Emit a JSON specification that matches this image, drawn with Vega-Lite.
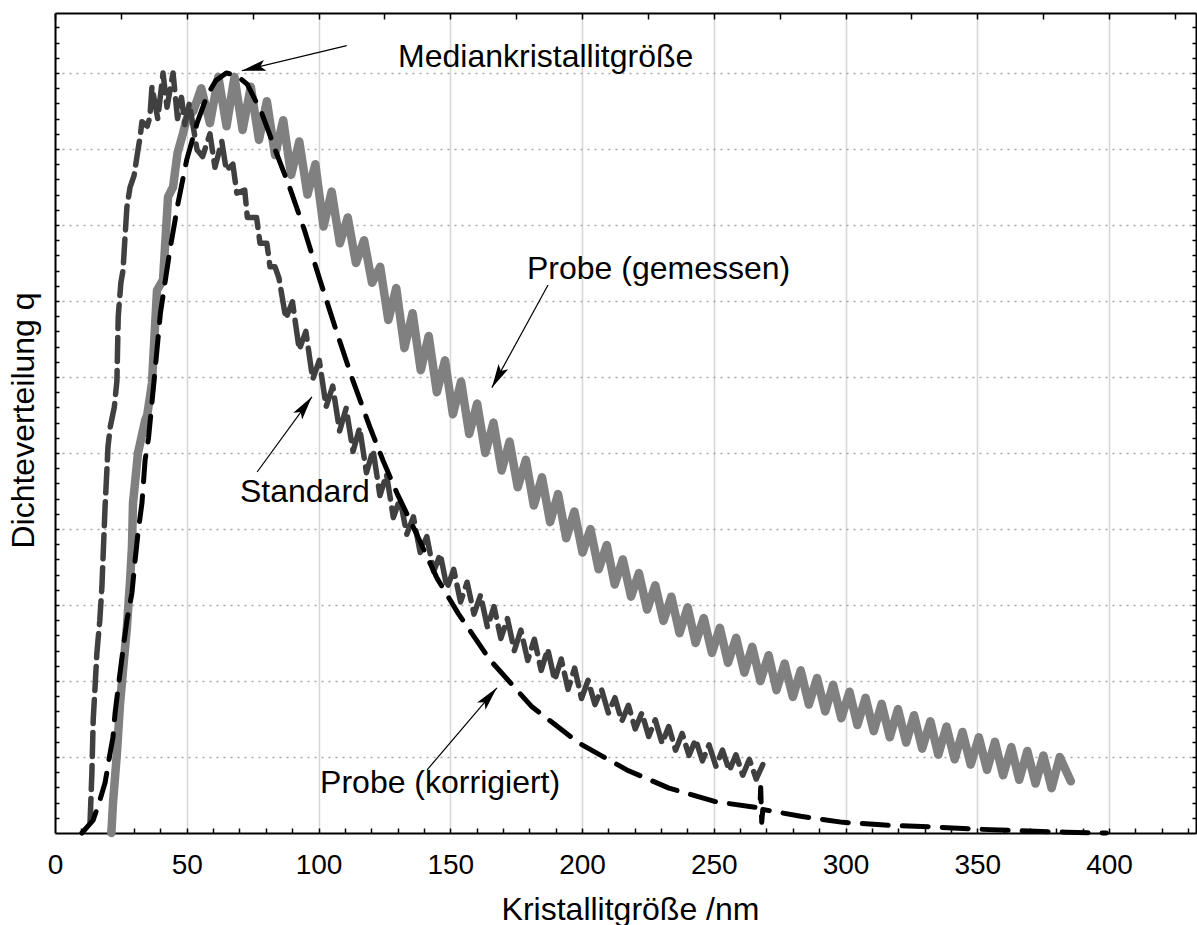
{
"$schema":"https://vega.github.io/schema/vega-lite/v6.json",
"width":1141,"height":820,
"autosize":{"type":"none"},
"padding":{"left":55,"top":13,"right":1,"bottom":92},
"background":"white",
"config":{"view":{"stroke":null},"font":"Liberation Sans"},
"datasets":{
"gemessen":[{"x":21.4,"y":0},{"x":22,"y":0.39},{"x":23.5,"y":1.05},{"x":24.7,"y":1.71},{"x":25.8,"y":2.14},{"x":27.3,"y":2.71},{"x":28.5,"y":3.33},{"x":29.2,"y":3.76},{"x":29.6,"y":4.34},{"x":31.5,"y":5.0},{"x":34.2,"y":5.43},{"x":35,"y":5.5},{"x":36.8,"y":5.92},{"x":38.7,"y":7.14},{"x":41,"y":7.28},{"x":42.9,"y":8.37},{"x":44.8,"y":8.5},{"x":46.5,"y":8.95},{"x":48.6,"y":9.21},{"x":50,"y":9.4},{"x":52.5,"y":9.5},{"x":55.5,"y":9.8},{"x":58.8,"y":9.34},
{"x":62.0,"y":9.95},{"x":65.1,"y":9.3},{"x":68.1,"y":9.95},{"x":71.2,"y":9.25},{"x":74.3,"y":9.82},{"x":77.4,"y":9.12},{"x":80.4,"y":9.63},{"x":83.5,"y":8.92},{"x":86.6,"y":9.38},{"x":89.6,"y":8.66},{"x":92.7,"y":9.1},{"x":95.8,"y":8.4},{"x":98.8,"y":8.8},{"x":101.9,"y":7.98},{"x":105.0,"y":8.44},{"x":108.1,"y":7.76},{"x":111.1,"y":8.1},{"x":114.2,"y":7.5},{"x":117.3,"y":7.8},{"x":120.3,"y":7.24},{"x":123.4,"y":7.45},{"x":126.5,"y":6.75},{"x":129.5,"y":7.17},{"x":132.6,"y":6.38},{"x":135.7,"y":6.84},{"x":138.8,"y":6.09},{"x":141.8,"y":6.54},{"x":144.9,"y":5.8},{"x":148.0,"y":6.22},{"x":151.0,"y":5.51},{"x":154.1,"y":5.94},{"x":157.2,"y":5.25},{"x":160.2,"y":5.65},{"x":163.3,"y":5.0},{"x":166.4,"y":5.4},{"x":169.5,"y":4.77},{"x":172.5,"y":5.15},{"x":175.6,"y":4.55},{"x":178.7,"y":4.91},{"x":181.7,"y":4.31},{"x":184.8,"y":4.68},{"x":187.9,"y":4.09},{"x":190.9,"y":4.46},{"x":194.0,"y":3.88},{"x":197.1,"y":4.23},{"x":200.2,"y":3.69},{"x":203.2,"y":4.0},{"x":206.3,"y":3.47},{"x":209.4,"y":3.79},{"x":212.4,"y":3.27},{"x":215.5,"y":3.6},{"x":218.6,"y":3.11},{"x":221.6,"y":3.42},{"x":224.7,"y":2.94},{"x":227.8,"y":3.26},{"x":230.9,"y":2.79},{"x":233.9,"y":3.11},{"x":237.0,"y":2.63},{"x":240.1,"y":2.97},{"x":243.1,"y":2.5},{"x":246.2,"y":2.83},{"x":249.3,"y":2.37},{"x":252.3,"y":2.7},{"x":255.4,"y":2.24},{"x":258.5,"y":2.57},{"x":261.6,"y":2.11},{"x":264.6,"y":2.45},{"x":267.7,"y":2.0},{"x":270.8,"y":2.34},{"x":273.8,"y":1.88},{"x":276.9,"y":2.23},{"x":280.0,"y":1.79},{"x":283.0,"y":2.14},{"x":286.1,"y":1.69},{"x":289.2,"y":2.04},{"x":292.3,"y":1.6},{"x":295.3,"y":1.95},{"x":298.4,"y":1.51},{"x":301.5,"y":1.86},{"x":304.5,"y":1.42},{"x":307.6,"y":1.78},{"x":310.7,"y":1.34},{"x":313.7,"y":1.7},{"x":316.8,"y":1.26},{"x":319.9,"y":1.63},{"x":323.0,"y":1.19},{"x":326.0,"y":1.55},{"x":329.1,"y":1.11},{"x":332.2,"y":1.47},{"x":335.2,"y":1.03},{"x":338.3,"y":1.4},{"x":341.4,"y":0.97},{"x":344.4,"y":1.33},{"x":347.5,"y":0.9},{"x":350.6,"y":1.26},{"x":353.7,"y":0.83},{"x":356.7,"y":1.2},{"x":359.8,"y":0.76},{"x":362.9,"y":1.13},{"x":365.9,"y":0.7},{"x":369.0,"y":1.08},{"x":372.1,"y":0.65},{"x":375.1,"y":1.02},{"x":378.2,"y":0.59},{"x":381.3,"y":1.0},{"x":385.5,"y":0.68}],
"standard":[{"x":13.3,"y":0.14},{"x":14,"y":0.79},{"x":14.5,"y":1.49},{"x":15.2,"y":1.92},{"x":15.9,"y":2.37},{"x":17,"y":2.8},{"x":17.8,"y":3.24},{"x":18.3,"y":3.68},{"x":19,"y":4.29},{"x":19.7,"y":4.78},{"x":20.1,"y":5.08},{"x":21,"y":5.35},{"x":22.5,"y":5.6},{"x":23.5,"y":5.95},{"x":24,"y":6.8},{"x":25,"y":7.24},{"x":25.8,"y":7.4},{"x":26.5,"y":7.8},{"x":27.3,"y":8.24},{"x":28.5,"y":8.5},{"x":30,"y":8.65},{"x":31.5,"y":8.99},{"x":32.3,"y":9.16},{"x":33,"y":9.36},{"x":35,"y":9.3},{"x":36,"y":9.42},{"x":36.8,"y":9.82},{"x":39,"y":9.4},{"x":41,"y":10},{"x":42.5,"y":9.55},{"x":44.8,"y":10},{"x":46.5,"y":9.4},{"x":48,"y":9.68},{"x":49.3,"y":9.32},{"x":51,"y":9.6},{"x":53.9,"y":8.99},{"x":56,"y":8.9},{"x":58.8,"y":9.2},{"x":60.7,"y":8.76},{"x":63.3,"y":9.1},{"x":65,"y":8.72},{"x":67.5,"y":8.8},{"x":69,"y":8.42},{"x":72,"y":8.46},{"x":73,"y":8.1},{"x":76.5,"y":8.1},{"x":77.8,"y":7.76},{"x":80.4,"y":7.76},{"x":81.6,"y":7.45},{"x":83.5,"y":7.45},
{"x":85.0,"y":7.3},{"x":87.6,"y":6.77},{"x":90.1,"y":6.99},{"x":92.7,"y":6.36},{"x":95.2,"y":6.6},{"x":97.8,"y":5.97},{"x":100.3,"y":6.22},{"x":102.9,"y":5.61},{"x":105.4,"y":5.88},{"x":108.0,"y":5.29},{"x":110.5,"y":5.59},{"x":113.1,"y":5.02},{"x":115.6,"y":5.33},{"x":118.2,"y":4.74},{"x":120.7,"y":5.04},{"x":123.3,"y":4.44},{"x":125.8,"y":4.72},{"x":128.4,"y":4.15},{"x":130.9,"y":4.4},{"x":133.5,"y":3.93},{"x":136.0,"y":4.16},{"x":138.6,"y":3.69},{"x":141.1,"y":3.9},{"x":143.7,"y":3.44},{"x":146.2,"y":3.67},{"x":148.8,"y":3.22},{"x":151.3,"y":3.47},{"x":153.9,"y":3.04},{"x":156.4,"y":3.3},{"x":159.0,"y":2.88},{"x":161.5,"y":3.13},{"x":164.1,"y":2.71},{"x":166.6,"y":2.98},{"x":169.2,"y":2.56},{"x":171.7,"y":2.82},{"x":174.3,"y":2.4},{"x":176.8,"y":2.67},{"x":179.4,"y":2.27},{"x":181.9,"y":2.55},{"x":184.5,"y":2.14},{"x":187.0,"y":2.42},{"x":189.6,"y":2.01},{"x":192.1,"y":2.29},{"x":194.7,"y":1.89},{"x":197.2,"y":2.17},{"x":199.8,"y":1.77},{"x":202.3,"y":2.01},{"x":204.9,"y":1.69},{"x":207.4,"y":1.89},{"x":210.0,"y":1.58},{"x":212.5,"y":1.78},{"x":215.1,"y":1.47},{"x":217.6,"y":1.68},{"x":220.2,"y":1.37},{"x":222.7,"y":1.58},{"x":225.3,"y":1.27},{"x":227.8,"y":1.49},{"x":230.4,"y":1.18},{"x":232.9,"y":1.4},{"x":235.5,"y":1.09},{"x":238.0,"y":1.31},{"x":240.6,"y":1.02},{"x":243.1,"y":1.23},{"x":245.7,"y":0.95},{"x":248.2,"y":1.16},{"x":250.8,"y":0.88},{"x":253.3,"y":1.09},{"x":255.9,"y":0.82},{"x":258.4,"y":1.03},{"x":261.0,"y":0.76},{"x":263.5,"y":0.97},{"x":266.1,"y":0.71},{"x":268.6,"y":0.9}],
"korrigiert":[{"x":10.2,"y":0},{"x":14.5,"y":0.17},{"x":17,"y":0.43},{"x":19,"y":0.66},{"x":20.9,"y":1.05},{"x":22,"y":1.26},{"x":22.8,"y":1.58},{"x":24,"y":1.92},{"x":25.8,"y":2.41},{"x":27.3,"y":2.8},{"x":29.2,"y":3.16},{"x":30.4,"y":3.59},{"x":31.5,"y":3.95},{"x":33,"y":4.34},{"x":34.2,"y":4.91},{"x":35.5,"y":5.2},{"x":38,"y":6.1},{"x":40,"y":6.84},{"x":43.6,"y":7.67},{"x":46.7,"y":8.29},{"x":50,"y":8.86},{"x":54,"y":9.35},{"x":57.7,"y":9.7},{"x":61,"y":9.9},{"x":65,"y":10},{"x":69,"y":9.97},{"x":73,"y":9.85},{"x":78.5,"y":9.47},{"x":84,"y":8.95},{"x":89,"y":8.5},{"x":94.5,"y":7.95},{"x":100.6,"y":7.27},{"x":107,"y":6.58},{"x":113,"y":5.96},{"x":119.5,"y":5.34},{"x":124.5,"y":4.9},{"x":129.8,"y":4.47},{"x":137,"y":3.95},{"x":145,"y":3.35},{"x":153,"y":2.89},{"x":165,"y":2.28},{"x":181,"y":1.66},{"x":199,"y":1.18},{"x":217,"y":0.83},{"x":233,"y":0.59},{"x":251,"y":0.41},{"x":267.5,"y":0.33},{"x":267.8,"y":0.6},{"x":268.2,"y":0.14},{"x":268.6,"y":0.31},{"x":283,"y":0.22},{"x":299,"y":0.14},{"x":317,"y":0.1},{"x":333,"y":0.08},{"x":350,"y":0.05},{"x":366,"y":0.03},{"x":384,"y":0.01},{"x":399,"y":0}],
"labels":[{"text":"Mediankristallitgröße","x":130.2,"y":10.08},{"text":"Probe (gemessen)","x":179.1,"y":7.29},{"text":"Standard","x":70.2,"y":4.36},{"text":"Probe (korrigiert)","x":100.6,"y":0.52}],
"arrows":[{"id":1,"x":110.7,"y":10.36,"x2":70.9,"y2":10.03},{"id":2,"x":187.1,"y":7.21,"x2":165.8,"y2":5.86},{"id":3,"x":76.7,"y":4.75,"x2":97.5,"y2":5.74},{"id":4,"x":141.2,"y":0.83,"x2":167.7,"y2":1.91}]
},
"layer":[
{"data":{"name":"gemessen"},
 "mark":{"type":"line","color":"#808080","strokeWidth":8.5,"strokeJoin":"round","strokeCap":"round"},
 "encoding":{
  "x":{"field":"x","type":"quantitative","scale":{"domain":[0,433],"nice":false,"zero":false},
   "axis":{"orient":"bottom","values":[0,50,100,150,200,250,300,350,400],"grid":true,"gridColor":"#d6d6d6","gridWidth":1.5,"ticks":false,"tickSize":0,"domain":true,"domainColor":"#000","domainWidth":2,"labelFontSize":28,"labelColor":"#000","labelFont":"Liberation Sans","labelBaseline":"alphabetic","labelPadding":40,"labelFlush":false,"labelOverlap":false,"title":"Kristallitgröße /nm","titleFont":"Liberation Sans","titleFontSize":32,"titleFontWeight":"normal","titleColor":"#000","titleX":575,"titleY":86,"titleBaseline":"alphabetic","titleAlign":"center","titleAnchor":"start"}},
  "y":{"field":"y","type":"quantitative","scale":{"domain":[0,10.79],"nice":false,"zero":false},
   "axis":{"orient":"left","values":[1,2,3,4,5,6,7,8,9,10],"grid":true,"gridColor":"#a6a6a6","gridDash":[2,5],"gridWidth":1.5,"ticks":false,"labels":false,"domain":true,"domainColor":"#000","domainWidth":2,"title":"Dichteverteilung q","titleFont":"Liberation Sans","titleFontSize":32,"titleFontWeight":"normal","titleColor":"#000","titleAngle":270,"titleX":-22,"titleY":407,"titleBaseline":"alphabetic","titleAlign":"center","titleAnchor":"start"}}
 }},
{"data":{"name":"standard"},
 "mark":{"type":"line","color":"#404040","strokeWidth":5.5,"strokeDash":[24,9],"strokeJoin":"round","strokeCap":"round"},
 "encoding":{
  "x":{"field":"x","type":"quantitative","axis":{"orient":"top","values":[0,25,50,75,100,125,150,175,200,225,250,275,300,325,350,375,400,425],"grid":false,"labels":false,"ticks":true,"tickSize":-6,"tickColor":"#000","tickWidth":1.5,"domain":true,"domainColor":"#000","domainWidth":2,"title":null}},
  "y":{"field":"y","type":"quantitative","axis":{"orient":"right","values":[0.2,0.4,0.6,0.8,1,1.2,1.4,1.6,1.8,2,2.2,2.4,2.6,2.8,3,3.2,3.4,3.6,3.8,4,4.2,4.4,4.6,4.8,5,5.2,5.4,5.6,5.8,6,6.2,6.4,6.6,6.8,7,7.2,7.4,7.6,7.8,8,8.2,8.4,8.6,8.8,9,9.2,9.4,9.6,9.8,10,10.2,10.4,10.6],"grid":false,"labels":false,"ticks":true,"tickSize":-4,"tickColor":"#000","tickWidth":1.5,"domain":true,"domainColor":"#000","domainWidth":2,"title":null}}
 }},
{"data":{"name":"korrigiert"},
 "mark":{"type":"line","color":"#000000","strokeWidth":5,"strokeDash":[26,14],"strokeJoin":"round","strokeCap":"round"},
 "encoding":{
  "x":{"field":"x","type":"quantitative","axis":{"orient":"bottom","values":[10,20,30,40,50,60,70,80,90,100,110,120,130,140,150,160,170,180,190,200,210,220,230,240,250,260,270,280,290,300,310,320,330,340,350,360,370,380,390,400,410,420,430],"grid":false,"labels":false,"ticks":true,"tickSize":-5,"tickColor":"#000","tickWidth":1.5,"domain":false,"title":null}},
  "y":{"field":"y","type":"quantitative","axis":{"orient":"left","values":[0.2,0.4,0.6,0.8,1,1.2,1.4,1.6,1.8,2,2.2,2.4,2.6,2.8,3,3.2,3.4,3.6,3.8,4,4.2,4.4,4.6,4.8,5,5.2,5.4,5.6,5.8,6,6.2,6.4,6.6,6.8,7,7.2,7.4,7.6,7.8,8,8.2,8.4,8.6,8.8,9,9.2,9.4,9.6,9.8,10,10.2,10.4,10.6],"grid":false,"labels":false,"ticks":true,"tickSize":-4,"tickColor":"#000","tickWidth":1.5,"domain":false,"title":null}}
 }},
{"data":{"name":"arrows"},
 "mark":{"type":"rule","color":"#000","strokeWidth":1.2},
 "encoding":{"x":{"field":"x","type":"quantitative","axis":null},"y":{"field":"y","type":"quantitative","axis":null},"x2":{"field":"x2"},"y2":{"field":"y2"}}},
{"data":{"name":"arrows"},"transform":[{"filter":"datum.id == 1"}],
 "mark":{"type":"point","shape":"M0,0L-2.4,-0.55L-1.9,0L-2.4,0.55Z","filled":true,"color":"#000","opacity":1,"size":400,"strokeWidth":0,"angle":166.8},
 "encoding":{"x":{"field":"x2","type":"quantitative","axis":null},"y":{"field":"y2","type":"quantitative","axis":null}}},
{"data":{"name":"arrows"},"transform":[{"filter":"datum.id == 2"}],
 "mark":{"type":"point","shape":"M0,0L-2.4,-0.55L-1.9,0L-2.4,0.55Z","filled":true,"color":"#000","opacity":1,"size":400,"strokeWidth":0,"angle":118.5},
 "encoding":{"x":{"field":"x2","type":"quantitative","axis":null},"y":{"field":"y2","type":"quantitative","axis":null}}},
{"data":{"name":"arrows"},"transform":[{"filter":"datum.id == 3"}],
 "mark":{"type":"point","shape":"M0,0L-2.4,-0.55L-1.9,0L-2.4,0.55Z","filled":true,"color":"#000","opacity":1,"size":400,"strokeWidth":0,"angle":306.3},
 "encoding":{"x":{"field":"x2","type":"quantitative","axis":null},"y":{"field":"y2","type":"quantitative","axis":null}}},
{"data":{"name":"arrows"},"transform":[{"filter":"datum.id == 4"}],
 "mark":{"type":"point","shape":"M0,0L-2.4,-0.55L-1.9,0L-2.4,0.55Z","filled":true,"color":"#000","opacity":1,"size":400,"strokeWidth":0,"angle":310.5},
 "encoding":{"x":{"field":"x2","type":"quantitative","axis":null},"y":{"field":"y2","type":"quantitative","axis":null}}},
{"data":{"name":"labels"},
 "mark":{"type":"text","align":"left","baseline":"alphabetic","font":"Liberation Sans","fontSize":32,"color":"#000"},
 "encoding":{"x":{"field":"x","type":"quantitative","axis":null},"y":{"field":"y","type":"quantitative","axis":null},"text":{"field":"text"}}}
],
"resolve":{"axis":{"x":"independent","y":"independent"}}
}
